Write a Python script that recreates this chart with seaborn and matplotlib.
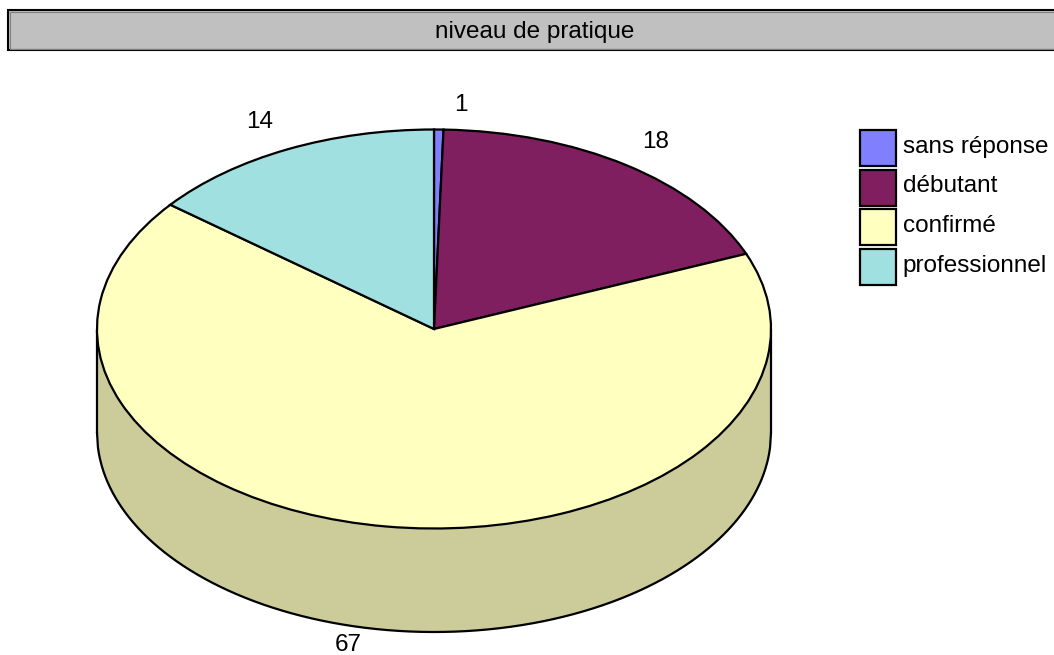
import matplotlib
matplotlib.use("Agg")
import matplotlib.pyplot as plt
from matplotlib.patches import Rectangle
import numpy as np
import seaborn as sns

title = "niveau de pratique"
categories = ["sans réponse", "débutant", "confirmé", "professionnel"]
value_labels = [1, 18, 67, 14]
shares = [0.45, 18.4, 66.85, 14.3]
top_colors = ["#8080ff", "#7f1f5f", "#ffffc0", "#a0e0e0"]
wall_color = "#cccc9a"

sns.set_theme(style="white")
plt.rcParams["font.family"] = ["Liberation Sans", "DejaVu Sans"]

W, H = 1054, 655
CX, CY, RX, RY, DEPTH = 434, 329, 337, 199.5, 103.5
FS = 17.5
label_px = [(461, 105), (656, 142), (348, 645), (260, 122)]

palette = sns.color_palette(top_colors)
fig = plt.figure(figsize=(W / 100, H / 100), dpi=100, facecolor="white")
ax = fig.add_axes([0, 0, 1, 1])

d = DEPTH / RY
LW = 1.6
wedge_style = dict(edgecolor="black", linewidth=LW)

# side wall of the drum
xs = np.linspace(-1, 1, 721)
ys = -np.sqrt(1 - xs ** 2)
ax.fill_between(xs, ys, ys - d, color=wall_color, linewidth=0, zorder=1)
ax.plot(xs, ys - d, color="black", lw=LW, zorder=2)
ax.plot([-1, -1], [0, -d], color="black", lw=LW, zorder=2)
ax.plot([1, 1], [0, -d], color="black", lw=LW, zorder=2)

# top face
wedges, _ = ax.pie(shares, colors=palette, startangle=90, counterclock=False,
                   radius=1, center=(0, 0), wedgeprops=wedge_style)
for w in wedges:
    w.set_zorder(3)

ax.set_aspect("auto")
ax.set_xlim(-CX / RX, (W - CX) / RX)
ax.set_ylim(-(H - CY) / RY, CY / RY)
ax.axis("off")

# value labels
for v, (px, py) in zip(value_labels, label_px):
    fig.text(px / W, 1 - py / H, str(v), ha="center", va="center",
             fontsize=FS, color="black")

# title bar
fig.add_artist(Rectangle((8 / W, 1 - 50 / H), 1.1, 40 / H, transform=fig.transFigure,
                         facecolor="#c0c0c0", edgecolor="black", linewidth=1.5))
fig.add_artist(Rectangle((10 / W, 1 - 48.5 / H), 1.1, 37 / H, transform=fig.transFigure,
                         facecolor="none", edgecolor="#808080", linewidth=0.8))
fig.text(535 / W, 1 - 32 / H, title, ha="center", va="center", fontsize=FS, color="black")

# legend
leg = ax.legend(wedges, categories, loc="upper left", frameon=False,
                bbox_to_anchor=(860 / W, 1 - 130 / H), bbox_transform=fig.transFigure,
                fontsize=FS, handlelength=1.48, handleheight=1.9,
                handletextpad=0.28, labelspacing=0.15, borderpad=0, borderaxespad=0)
for t in leg.get_texts():
    t.set_color("black")
    t.set_y(3)

fig.savefig("out.png", dpi=100, facecolor="white")
